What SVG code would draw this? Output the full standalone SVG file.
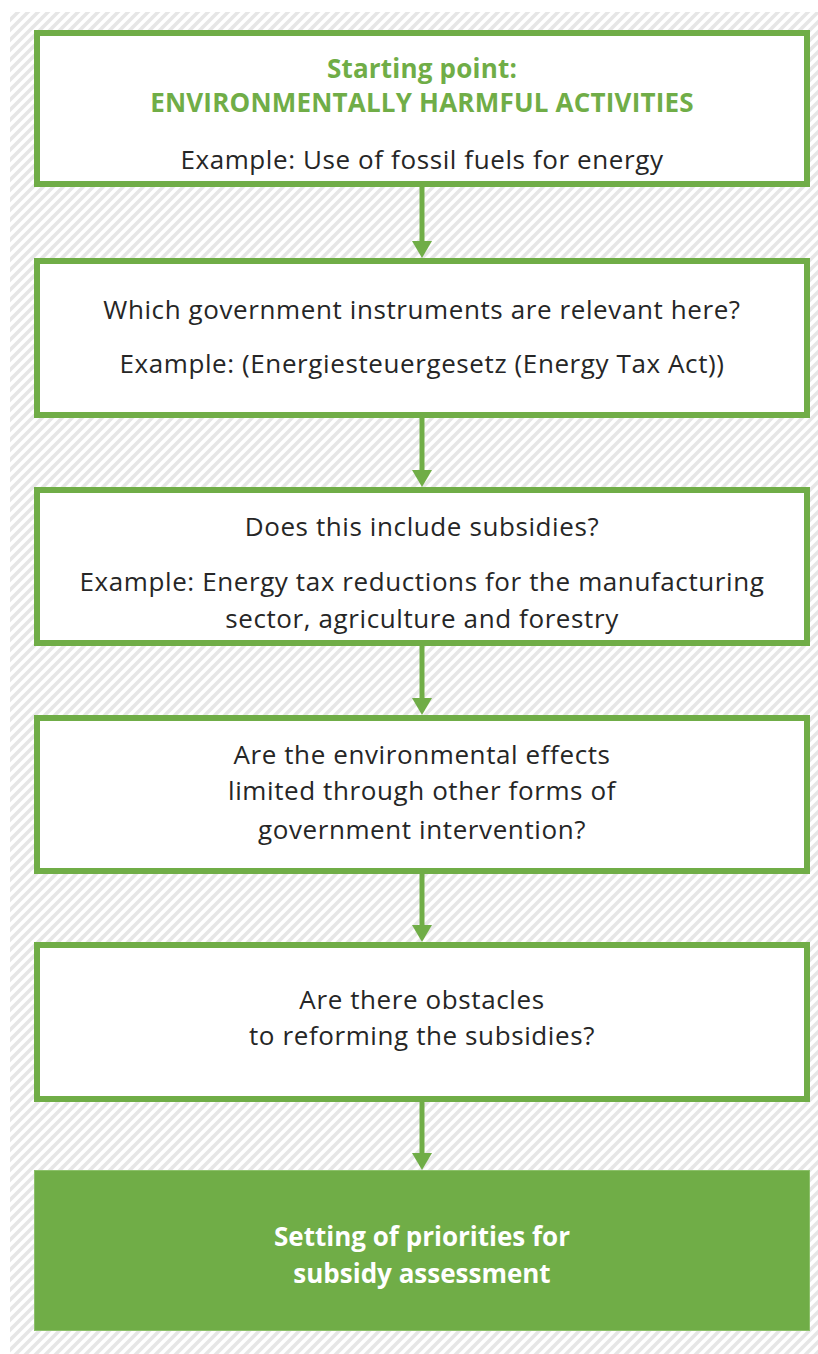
<svg xmlns="http://www.w3.org/2000/svg" width="818" height="1354" viewBox="0 0 818 1354">
<defs>
<pattern id="hatch" patternUnits="userSpaceOnUse" width="10" height="10">
<rect width="10" height="10" fill="#ffffff"/>
<path d="M-2,2 L2,-2 M0,10 L10,0 M8,12 L12,8" stroke="#e6e6e6" stroke-width="3.5"/>
</pattern>
<style>
.box{fill:#ffffff;stroke:#70ad47;stroke-width:6}
.fin{fill:#70ad47;stroke:#8cc06a;stroke-width:1}
.t{font-family:"Open Sans","Noto Sans",sans-serif;font-size:26px;letter-spacing:0.6px;fill:#262626;text-anchor:middle}
.g{font-family:"Open Sans","Noto Sans",sans-serif;font-size:26px;letter-spacing:0.2px;fill:#70ad47;font-weight:bold;text-anchor:middle}
.w{font-family:"Open Sans","Noto Sans",sans-serif;font-size:26px;fill:#ffffff;font-weight:bold;text-anchor:middle}
.c{stroke:#70ad47;stroke-width:5;fill:none}
.ah{fill:#70ad47}
</style>
</defs>
<rect x="10" y="12" width="808" height="1342" fill="url(#hatch)"/>
<g id="connectors">
<line class="c" x1="422" y1="187" x2="422" y2="243"/><path class="ah" d="M412,241 L432,241 L422,258 Z"/>
<line class="c" x1="422" y1="418" x2="422" y2="472"/><path class="ah" d="M412,470 L432,470 L422,487 Z"/>
<line class="c" x1="422" y1="646" x2="422" y2="700"/><path class="ah" d="M412,698 L432,698 L422,715 Z"/>
<line class="c" x1="422" y1="874" x2="422" y2="927"/><path class="ah" d="M412,925 L432,925 L422,942 Z"/>
<line class="c" x1="422" y1="1102" x2="422" y2="1155"/><path class="ah" d="M412,1153 L432,1153 L422,1170 Z"/>
</g>
<g id="n1">
<rect class="box" x="37" y="33" width="770" height="151"/>
<text class="g" x="422" y="78">Starting point:</text>
<text class="g" x="422" y="112">ENVIRONMENTALLY HARMFUL ACTIVITIES</text>
<text class="t" x="422" y="169">Example: Use of fossil fuels for energy</text>
</g>
<g id="n2">
<rect class="box" x="37" y="261" width="770" height="154"/>
<text class="t" x="422" y="319">Which government instruments are relevant here?</text>
<text class="t" x="422" y="373">Example: (Energiesteuergesetz (Energy Tax Act))</text>
</g>
<g id="n3">
<rect class="box" x="37" y="490" width="770" height="153"/>
<text class="t" x="422" y="536">Does this include subsidies?</text>
<text class="t" x="422" y="591">Example: Energy tax reductions for the manufacturing</text>
<text class="t" x="422" y="628">sector, agriculture and forestry</text>
</g>
<g id="n4">
<rect class="box" x="37" y="718" width="770" height="153"/>
<text class="t" x="422" y="764">Are the environmental effects</text>
<text class="t" x="422" y="800">limited through other forms of</text>
<text class="t" x="422" y="839">government intervention?</text>
</g>
<g id="n5">
<rect class="box" x="37" y="945" width="770" height="154"/>
<text class="t" x="422" y="1009">Are there obstacles</text>
<text class="t" x="422" y="1045">to reforming the subsidies?</text>
</g>
<g id="n6">
<rect class="fin" x="34.5" y="1170.5" width="775" height="160"/>
<text class="w" x="422" y="1246">Setting of priorities for</text>
<text class="w" x="422" y="1283">subsidy assessment</text>
</g>
</svg>
